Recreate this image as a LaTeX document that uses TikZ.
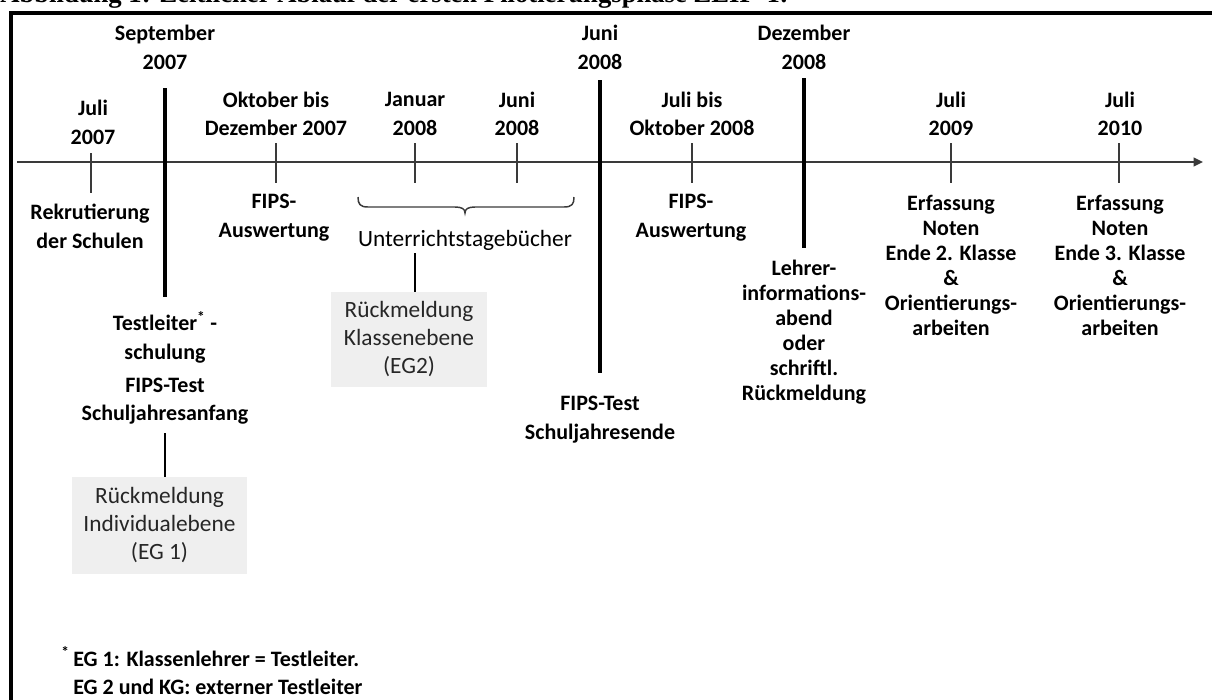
\documentclass[tikz,border=0pt]{standalone}
\usepackage{fontspec}
\setmainfont{Carlito}
\newfontfamily\titlefont{Liberation Serif}
\usetikzlibrary{arrows.meta}
\definecolor{axisgray}{HTML}{3A3A3A}
\definecolor{boxgray}{HTML}{EFEFEF}
\definecolor{boxtext}{HTML}{262626}
\begin{document}
\begin{tikzpicture}[x=0.75pt,y=-0.75pt,
 lbl/.style={font=\bfseries\fontsize{16.5}{21.5}\selectfont, align=center, inner sep=0pt},
 lblc/.style={font=\bfseries\fontsize{16.5}{18.75}\selectfont, align=center, inner sep=0pt},
 plain/.style={font=\fontsize{17.5}{21}\selectfont, align=center, inner sep=0pt},
 boxtxt/.style={fill=boxgray, text=boxtext, font=\fontsize{17.5}{21}\selectfont, align=center, inner sep=0pt},
 tickline/.style={draw=axisgray, line width=1.5pt},
 axisline/.style={draw=axisgray, line width=1.5pt},
 bigline/.style={draw=black, line width=3pt},
 conn/.style={draw=black, line width=2.2pt},
 bracestyle/.style={draw=axisgray, line width=1.1pt},
 frameline/.style={draw=black, line width=2.4pt},
]
\useasboundingbox (0,0) rectangle (1212,699);
% title (cut off at top, as in the reference)
\node[anchor=base west, inner sep=0pt, font=\titlefont\bfseries\fontsize{20}{24}\selectfont] (title) at (0,3) {Abbildung 1: Zeitlicher Ablauf der ersten Pilotierungsphase ZEIF-T.};
% frame
\coordinate (fbl) at (11,720);
\coordinate (ftl) at (11,13);
\coordinate (ftr) at (1230,13);
\draw[frameline] (fbl) -- (ftl) -- (ftr);
% axis
\coordinate (axs) at (17,162);
\coordinate (axe) at (1203,162);
\draw[axisline, -{Triangle[length=7pt,width=6.5pt]}] (axs) -- (axe);
% top labels
\node[lbl] (sept) at (165,47.5) {September\\2007};
\node[lbl] (junitop) at (600,47.5) {Juni\\2008};
\node[lbl] (deztop) at (804,47.5) {Dezember\\2008};
\node[lbl] (juli07) at (93,122.5) {Juli\\2007};
\node[lbl] (okt) at (276,114) {Oktober bis\\Dezember 2007};
\node[lbl] (jan) at (415,114) {Januar\\2008};
\node[lbl] (juni08) at (517,114) {Juni\\2008};
\node[lbl] (juliokt) at (692,114) {Juli bis\\Oktober 2008};
\node[lbl] (juli09) at (951,114) {Juli\\2009};
\node[lbl] (juli10) at (1120,114) {Juli\\2010};
% ticks
\coordinate (t1a) at (91,153);  \coordinate (t1b) at (91,193);
\coordinate (t2a) at (276,143); \coordinate (t2b) at (276,183);
\coordinate (t3a) at (415,143); \coordinate (t3b) at (415,183);
\coordinate (t4a) at (517,143); \coordinate (t4b) at (517,183);
\coordinate (t5a) at (692,143); \coordinate (t5b) at (692,183);
\coordinate (t6a) at (951,143); \coordinate (t6b) at (951,183);
\coordinate (t7a) at (1119,143); \coordinate (t7b) at (1119,183);
\foreach \i in {1,...,7} {\draw[tickline] (t\i a) -- (t\i b);}
% thick lines
\coordinate (sa) at (165,88);  \coordinate (sb) at (165,297);
\coordinate (ja) at (600,80);  \coordinate (jb) at (600,373);
\coordinate (da) at (804,78);  \coordinate (db) at (804,248);
\draw[bigline] (sa) -- (sb);
\draw[bigline] (ja) -- (jb);
\draw[bigline] (da) -- (db);
% below labels
\node[lbl] (rekr) at (90,226.5) {Rekrutierung\\der Schulen};
\node[lbl] (fips1) at (274,217.5) {FIPS-\\Auswertung};
\node[plain] (unterr) at (465,240) {Unterrichtstageb\"ucher};
\draw[bracestyle] (358,197) .. controls (358,204) and (360,207) .. (368,207) -- (455,207) .. controls (462,207) and (465,209) .. (465,213) .. controls (465,209) and (468,207) .. (475,207) -- (564,207) .. controls (572,207) and (574,204) .. (574,197);
\node[boxtxt, minimum width=117pt, minimum height=71.25pt] (eg2) at (409,339.5) {R\"uckmeldung\\Klassenebene\\(EG2)};
\coordinate (u2) at (415,253);
\draw[conn] (u2) -- (u2 |- eg2.north);
\node[lbl] (testl) at (165,337.5) {Testleiter\textsuperscript{*} -\\schulung};
\node[lbl] (fipsanf) at (165,401) {FIPS-Test\\Schuljahresanfang};
\node[boxtxt, minimum width=131.25pt, minimum height=72.75pt] (eg1) at (159.5,525.5) {R\"uckmeldung\\Individualebene\\(EG 1)};
\coordinate (u1) at (165,433);
\draw[conn] (u1) -- (u1 |- eg1.north);
\node[lbl] (fipsend) at (600,419.5) {FIPS-Test\\Schuljahresende};
\node[lbl] (fips2) at (691,217.5) {FIPS-\\Auswertung};
\node[lblc] (lehrer) at (804,332.5) {Lehrer-\\informations-\\abend\\oder\\schriftl.\\R\"uckmeldung};
\node[lblc] (erf1) at (951,265.5) {Erfassung\\Noten\\Ende 2. Klasse\\\&\\Orientierungs-\\arbeiten};
\node[lblc] (erf2) at (1120,265.5) {Erfassung\\Noten\\Ende 3. Klasse\\\&\\Orientierungs-\\arbeiten};
% footnote
\node[lbl, align=left, anchor=west] (foot) at (73,671) {\llap{\textsuperscript{*}\,}EG 1: Klassenlehrer = Testleiter.\\EG 2 und KG: externer Testleiter};
\end{tikzpicture}
\end{document}
